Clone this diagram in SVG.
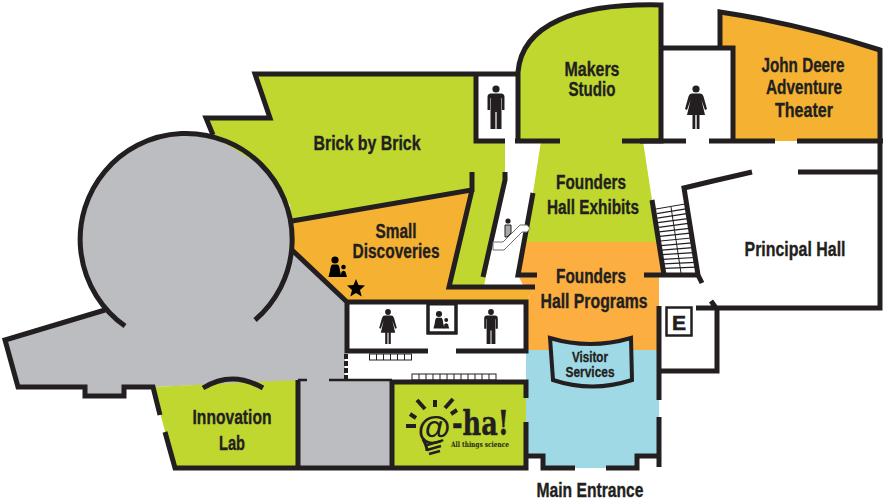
<svg xmlns="http://www.w3.org/2000/svg" width="884" height="502" viewBox="0 0 884 502">
<style>
.w{fill:none;stroke:#231f20;stroke-width:5;stroke-linejoin:miter}
.t{font-family:"Liberation Sans",Arial,sans-serif;font-weight:700;font-size:20px;fill:#231f20;stroke:#231f20;stroke-width:.35;text-anchor:middle}
.s{font-size:15.5px}
.i{fill:#231f20}
</style>
<defs>
<g id="man"><circle cx="0" cy="0" r="3.6"/><path d="M-5,4.5H5Q8.500,4.500 8.500,8V21H6V9H5.500V40H.6V23H-.6V40H-5.500V9H-6V21H-8.500V8Q-8.500,4.500 -5,4.500Z"/></g>
<g id="woman"><circle cx="0" cy="0" r="3.6"/><path d="M-4,4.5H4Q6.500,4.500 7.500,7.500L11,20L9,21L5.500,11L9,26H3.500V40H.7V26H-.7V40H-3.500V26H-9L-5.500,11L-9,21L-11,20L-7.500,7.500Q-6.500,4.500 -4,4.500Z"/></g>
<g id="family"><circle cx="0" cy="0" r="3.6"/><path d="M-2.500,4.500H2.500Q4.500,5 5,11L6.500,17H-6.500L-5,11Q-4.500,5 -2.500,4.500Z"/><circle cx="8.500" cy="7" r="2.300"/><path d="M5.500,17L6.500,12Q8.500,9.500 10.500,12L12,17Z"/></g>
</defs>
<rect width="884" height="502" fill="#fff"/>
<g id="grey-areas" fill="#bbbdc0">
<circle cx="185" cy="240" r="106"/>
<path d="M5,340L105,310L292,250L347,302V351H345V380H392V468H298V381L153,387H124V396H85V387H18Z"/>
</g>
<g id="brick-by-brick">
<path d="M255,74H476V141H505V172L505.600,180L484,286H449L472,190L292,221L290,205L260,165L213,136L206,118H270Z" fill="#bfd72f"/>
<text class="t" x="367" y="150" textLength="107" lengthAdjust="spacingAndGlyphs">Brick by Brick</text>
</g>
<g id="small-discoveries">
<path d="M292,221L472,190L449,287H535L526,302H347L292,250Z" fill="#f5b232"/>
<text class="t" x="396" y="238" textLength="41" lengthAdjust="spacingAndGlyphs">Small</text>
<text class="t" x="396" y="258" textLength="87" lengthAdjust="spacingAndGlyphs">Discoveries</text>
<use href="#family" x="335" y="260" fill="#000"/>
<polygon points="356,279 358.500,285 365,285.500 360,290 361.700,296.500 356,293 350.300,296.500 352,290 347,285.500 353.500,285" fill="#000"/>
</g>
<g id="makers-studio">
<path d="M661,5V141H518V72C522,25 575,3 661,5Z" fill="#bfd72f"/>
<text class="t" x="592" y="76" textLength="55" lengthAdjust="spacingAndGlyphs">Makers</text>
<text class="t" x="592" y="96" textLength="47" lengthAdjust="spacingAndGlyphs">Studio</text>
</g>
<g id="founders-hall-exhibits">
<path d="M541,141H643L652,200L657,242H524L533,193Z" fill="#bfd72f"/>
<text class="t" x="591" y="189" textLength="70" lengthAdjust="spacingAndGlyphs">Founders</text>
<text class="t" x="593" y="214" textLength="92" lengthAdjust="spacingAndGlyphs">Hall Exhibits</text>
</g>
<g id="founders-hall-programs">
<path d="M524,242H660L664,275H659V350H526V302L535,287H524L518,275Z" fill="#fcae40"/>
<text class="t" x="591" y="283" textLength="70" lengthAdjust="spacingAndGlyphs">Founders</text>
<text class="t" x="594" y="308" textLength="107" lengthAdjust="spacingAndGlyphs">Hall Programs</text>
</g>
<g id="main-entrance-hall">
<path d="M526,350H659V456H637V468H543V456H526Z" fill="#a0d9e6"/>
<text class="t" x="590" y="497" textLength="107" lengthAdjust="spacingAndGlyphs">Main Entrance</text>
</g>
<g id="visitor-services">
<path d="M550,338Q590,350 631,338L632,380Q592,393 553,380Z" fill="#a0d9e6" stroke="#231f20" stroke-width="4"/>
<text class="t s" x="590" y="362" textLength="36" lengthAdjust="spacingAndGlyphs">Visitor</text>
<text class="t s" x="590" y="377" textLength="49" lengthAdjust="spacingAndGlyphs">Services</text>
</g>
<g id="john-deere-adventure-theater">
<path d="M720,12Q800,24 880,50V141H733V48H720Z" fill="#f5b232"/>
<text class="t" x="803" y="72" textLength="83" lengthAdjust="spacingAndGlyphs">John Deere</text>
<text class="t" x="804" y="94" textLength="76" lengthAdjust="spacingAndGlyphs">Adventure</text>
<text class="t" x="804" y="117" textLength="58" lengthAdjust="spacingAndGlyphs">Theater</text>
</g>
<g id="principal-hall">
<text class="t" x="795" y="256" textLength="101" lengthAdjust="spacingAndGlyphs">Principal Hall</text>
</g>
<g id="innovation-lab">
<path d="M153,387L298,380V468H175Z" fill="#bfd72f"/>
<text class="t" x="232" y="424" textLength="79" lengthAdjust="spacingAndGlyphs">Innovation</text>
<text class="t" x="232" y="450" textLength="26" lengthAdjust="spacingAndGlyphs">Lab</text>
</g>
<g id="aha">
<rect x="392" y="382" width="134" height="86" fill="#bfd72f"/>
<g fill="none" stroke="#231f20" stroke-width="4">
<path d="M423,439C425,443 427,446 427,451" stroke-width="3"/>
<path d="M427,445L441,441M427,450L441,446M429,454L440,451" stroke-width="2.500"/>
<path d="M406,426H416M410,414L416,418M417,400L425,409M435,400V407M453,399L445,408M457,410L451,414"/>
</g>
<text x="434" y="439" font-family="Liberation Sans,Arial,sans-serif" font-weight="700" font-size="34" text-anchor="middle" fill="#231f20">@</text>
<text x="452" y="435" font-family="DejaVu Serif,serif" font-weight="700" font-size="33" fill="#231f20" stroke="#231f20" stroke-width=".5" textLength="57" lengthAdjust="spacingAndGlyphs">-ha!</text>
<text x="451" y="447" font-family="DejaVu Serif,serif" font-weight="700" font-size="7.500" fill="#231f20" textLength="58" lengthAdjust="spacingAndGlyphs">All things science</text>
</g>
<g id="restrooms" class="i">
<use href="#man" x="496" y="89"/>
<use href="#woman" x="696" y="89"/>
<use href="#man" transform="translate(491,312) scale(.8)"/>
<use href="#woman" transform="translate(388,312) scale(.8)"/>
</g>
<g id="family-room">
<rect x="428" y="304" width="28" height="29" fill="#fff" stroke="#231f20" stroke-width="3"/>
<use href="#family" transform="translate(439,314) scale(.85)" class="i"/>
</g>
<g id="tiles" fill="#fff" stroke="#231f20" stroke-width="1">
<rect x="369.500" y="354" width="42" height="6"/>
<path d="M376.500,354v6M383.500,354v6M390.500,354v6M397.500,354v6M404.500,354v6" fill="none"/>
<rect x="412" y="374" width="84" height="6"/>
<path d="M419,374v6M426,374v6M433,374v6M440,374v6M447,374v6M454,374v6M461,374v6M468,374v6M475,374v6M482,374v6M489,374v6" fill="none"/>
</g>
<g id="stairs" fill="none" stroke="#231f20">
<path d="M656,209L685,204M671,207L681,273" stroke-width="1"/>
<path stroke-width="1.200" d="M656.600,213.600L685.900,208.900M657.300,218.100L686.700,213.700M657.900,222.700L687.600,218.600M658.600,227.300L688.400,223.400M659.200,231.900L689.300,228.300M659.900,236.400L690.100,233.200M660.500,241L691,238M661.100,245.600L691.900,242.900M661.800,250.100L692.700,247.700M662.400,254.700L693.600,252.600M663.100,259.300L694.400,257.500M663.700,263.900L695.300,262.300M664.400,268.400L696.100,267.100"/>
</g>
<g id="walls">
<path class="w" d="M125,326A106,106 0 1 1 255,320"/>
<path class="w" d="M105,310L5,340L18,387H85V396H124V387H153L160,415M165,432L175,468H526V422M526,398V382H392V468"/>
<path class="w" d="M298,380V468"/>
<path d="M298,380H307M329,380H392" fill="none" stroke="#231f20" stroke-width="2.500"/>
<path class="w" d="M203,388Q232,370 263,388"/>
<path class="w" d="M213,135L206,118H270L255,74H518M476,74V141H505M515,141H560M622,141H661V5C575,3 522,25 518,72V141"/>
<path class="w" d="M292,221L472,190V172M472,190L449,287H535"/>
<path class="w" d="M292,250L347,302V351H428M456,351H526V302H347"/>
<path d="M428,302V333H456V302" fill="none" stroke="#231f20" stroke-width="3"/>
<path d="M346,354V380" fill="none" stroke="#231f20" stroke-width="4" stroke-dasharray="5 2"/>
<path class="w" d="M505,172V180L483,277M533,193L518,275H537M644,275H700"/>
<path class="w" d="M652,200L664,275"/>
<path class="w" d="M752,172L713,181L684,188L698,275L702,283M711,301L716,308M696,308H880V141M798,172H880"/>
<path class="w" d="M640,141H686M709,141H775M797,141H883"/>
<path class="w" d="M661,48H733V141M720,48V12Q800,24 880,50V141"/>
<path class="w" d="M659,306V400M659,417V467M659,371H717V308"/>
<path class="w" d="M526,456H543V468H575M606,468H637V456H659"/>
</g>
<g id="escalator">
<path d="M493,242H503L520,225H527L530,228.500L527,232H522L504,250H493Z" fill="#fff" stroke="#6d6e71" stroke-width="1"/>
<circle cx="508" cy="221" r="2.600" fill="#231f20"/>
<path d="M505,225H511V233L507,237H505Z" fill="#a7a9ac" stroke="#231f20" stroke-width="1"/>
</g>
<g id="elevator">
<rect x="666.500" y="307.500" width="25" height="28" fill="#fff" stroke="#231f20" stroke-width="2.500"/>
<text x="679" y="330" font-family="Liberation Sans,Arial,sans-serif" font-weight="700" font-size="21" text-anchor="middle" fill="#231f20" stroke="#231f20" stroke-width=".6">E</text>
</g>
</svg>
